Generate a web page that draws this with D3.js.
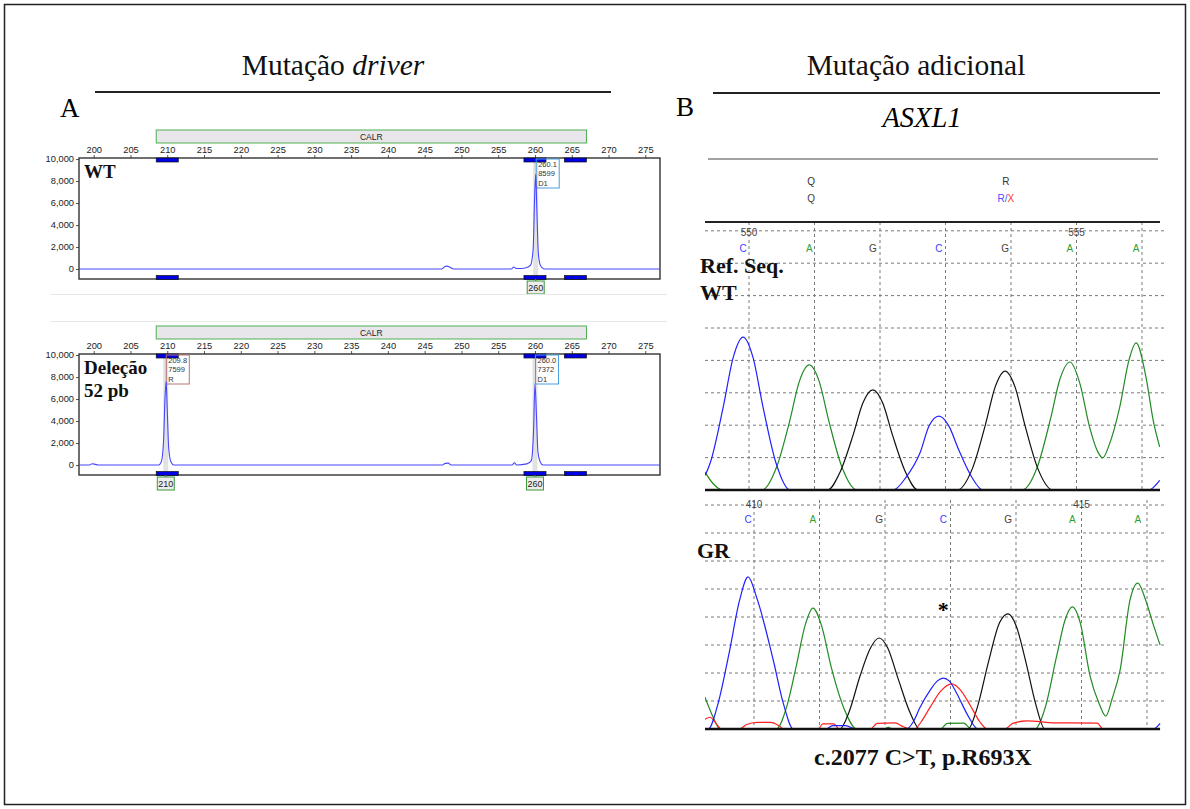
<!DOCTYPE html>
<html>
<head>
<meta charset="utf-8">
<script src="https://cdn.jsdelivr.net/npm/d3@7"></script>
<style>
body { margin: 0; background: #fff; }
svg { display: block; }
</style>
</head>
<body>
<div id="chart"></div>
<script>
// ---------- data: fragment analysis (CALR) ----------
var sizeTicks = [200, 205, 210, 215, 220, 225, 230, 235, 240, 245, 250, 255, 260, 265, 270, 275];
var rfuTicks = [0, 2000, 4000, 6000, 8000, 10000];
var calrRange = [208.5, 267];
var binRanges = [[208.5, 211.5], [258.5, 261.5], [264, 267]];

// [size (bp), RFU]
var wtTrace = [[198, 0], [247.3, 0], [247.7, 200], [248.0, 260], [248.4, 180], [248.8, 30], [249.4, 0],
  [256.8, 0], [257.1, 180], [257.4, 60], [257.7, 40], [258.8, 120], [259.4, 350], [259.75, 1800],
  [259.95, 6500], [260.1, 8599], [260.25, 5500], [260.45, 1500], [260.7, 400], [261.0, 100], [261.3, 0], [277, 0]];
var delTrace = [[198, 0], [199.4, 0], [199.8, 110], [200.2, 60], [200.6, 0], [208.8, 0], [209.2, 300],
  [209.5, 2200], [209.7, 6200], [209.85, 7599], [210.0, 5000], [210.2, 1500], [210.5, 300], [210.9, 0],
  [247.4, 0], [247.8, 150], [248.2, 170], [248.6, 0], [256.9, 0], [257.2, 200], [257.5, 0],
  [258.9, 100], [259.5, 400], [259.8, 3000], [260.0, 7372], [260.2, 4500], [260.4, 1200], [260.7, 300], [261.1, 0], [277, 0]];

// peak calls: [size, height, allele, bin label]
var wtCalls = [[260.1, 8599, "D1", "260"]];
var delCalls = [[209.8, 7599, "R", "210"], [260.0, 7372, "D1", "260"]];

// ---------- data: Sanger sequencing (ASXL1) ----------
var refBases = ["C", "A", "G", "C", "G", "A", "A"];
var refBasePos = [549.91, 550.92, 551.89, 552.9, 553.91, 554.9, 555.91];
var grBases = ["C", "A", "G", "C", "G", "A", "A"];
var grBasePos = [409.91, 410.9, 411.91, 412.89, 413.88, 414.86, 415.86];
var refPosLabels = [550, 555];
var grPosLabels = [410, 415];
var aminoPos = [550.95, 553.92];
var aminoRef = ["Q", "R"];
var aminoSample = ["Q", "R/X"];
var signalTicks = [100, 200, 300, 400, 500, 600, 700, 800];

// [base position, signal]
var refBlue = [[549.33, 45], [549.41, 85], [549.61, 260], [549.76, 410], [549.91, 472], [550.06, 410],
  [550.21, 260], [550.41, 85], [550.63, 0], [552.2, 0], [552.4, 40], [552.61, 114], [552.75, 198],
  [552.9, 228], [553.05, 198], [553.2, 125], [553.4, 40], [553.57, 0], [556.1, 0], [556.27, 30]];
var refGreen = [[549.33, 55], [549.45, 20], [549.6, 0], [550.2, 0], [550.42, 70], [550.62, 212],
  [550.77, 336], [550.92, 386], [551.07, 336], [551.22, 212], [551.42, 70], [551.65, 0], [554.17, 0],
  [554.4, 70], [554.6, 217], [554.75, 344], [554.9, 395], [555.05, 330], [555.2, 194], [555.32, 120],
  [555.4, 99], [555.5, 140], [555.66, 256], [555.8, 400], [555.91, 454], [556.06, 349], [556.17, 216], [556.27, 133]];
var refBlack = [[549.33, 0], [551.2, 0], [551.39, 55], [551.59, 170], [551.74, 269], [551.89, 309],
  [552.04, 269], [552.19, 170], [552.39, 55], [552.58, 0], [553.18, 0], [553.41, 66], [553.61, 202],
  [553.76, 319], [553.91, 367], [554.06, 319], [554.21, 202], [554.41, 66], [554.64, 0], [556.27, 0]];

var grBlue = [[409.25, 0], [409.3, 0], [409.45, 90], [409.62, 271], [409.78, 460], [409.91, 543],
  [410.04, 470], [410.29, 250], [410.45, 90], [410.6, 0], [411.1, 0], [411.2, 12], [411.4, 12], [411.55, 0],
  [412.33, 0], [412.43, 25], [412.53, 75], [412.69, 139], [412.8, 172], [412.89, 182], [412.98, 172],
  [413.1, 125], [413.25, 55], [413.42, 0], [416.1, 0], [416.2, 20]];
var grGreen = [[409.25, 114], [409.38, 40], [409.48, 0], [410.34, 0], [410.5, 80], [410.65, 230],
  [410.78, 370], [410.9, 432], [411.03, 370], [411.18, 220], [411.38, 70], [411.57, 0], [411.98, 0],
  [412.05, 6], [412.12, 0], [412.85, 0], [412.95, 20], [413.2, 21], [413.32, 0], [414.29, 0], [414.45, 80],
  [414.62, 260], [414.75, 390], [414.86, 436], [414.98, 380], [415.13, 190], [415.27, 90], [415.37, 46],
  [415.47, 110], [415.59, 211], [415.74, 460], [415.86, 521], [415.98, 460], [416.1, 370], [416.2, 300]];
var grBlack = [[409.25, 0], [411.31, 0], [411.45, 60], [411.62, 190], [411.78, 290], [411.91, 325],
  [412.04, 290], [412.2, 180], [412.38, 60], [412.53, 0], [413.27, 0], [413.4, 70], [413.58, 240],
  [413.75, 380], [413.88, 411], [414.0, 370], [414.15, 240], [414.3, 90], [414.44, 0], [416.2, 0]];
var grRed = [[409.25, 35], [409.33, 42], [409.42, 20], [409.5, 0], [409.78, 0], [409.88, 15], [410.05, 24],
  [410.25, 24], [410.38, 12], [410.45, 0], [410.98, 0], [411.05, 18], [411.22, 18], [411.3, 0], [411.78, 0],
  [411.88, 20], [412.15, 22], [412.28, 8], [412.4, 0], [412.45, 0], [412.55, 25], [412.69, 78], [412.85, 135],
  [413.02, 161], [413.15, 140], [413.3, 85], [413.45, 25], [413.56, 0], [413.83, 0], [413.95, 20],
  [414.17, 29], [414.6, 22], [415.24, 21], [415.33, 0], [416.2, 0]];

// ---------- drawing ----------
var serif = "'Liberation Serif','Times New Roman',serif";
var sans = "'Liberation Sans',Arial,sans-serif";
var baseColor = { C: "#3a3aff", A: "#2fa02f", G: "#4a4036", T: "#ff2020" };

var svg = d3.select("#chart").append("svg")
  .attr("width", 1190)
  .attr("height", 809);

svg.append("rect")
  .attr("x", 4.5).attr("y", 4.5).attr("width", 1181).attr("height", 800)
  .attr("fill", "none").attr("stroke", "#222").attr("stroke-width", 1.5);

function hline(x1, x2, y, color, w) {
  svg.append("line").attr("x1", x1).attr("x2", x2).attr("y1", y).attr("y2", y)
    .attr("stroke", color).attr("stroke-width", w);
}

// headings
var t1 = svg.append("text").attr("x", 333).attr("y", 75).attr("text-anchor", "middle")
  .style("font-family", serif).style("font-size", "29.5px").attr("fill", "#111");
t1.append("tspan").text("Mutação ");
t1.append("tspan").style("font-style", "italic").text("driver");
hline(95, 611, 92, "#222", 2);
svg.append("text").attr("x", 60).attr("y", 117).style("font-family", serif).style("font-size", "27px").text("A");

svg.append("text").attr("x", 916).attr("y", 75).attr("text-anchor", "middle")
  .style("font-family", serif).style("font-size", "29.5px").attr("fill", "#111").text("Mutação adicional");
hline(713, 1160, 93, "#222", 2);
svg.append("text").attr("x", 676).attr("y", 116).style("font-family", serif).style("font-size", "27px").text("B");
svg.append("text").attr("x", 922).attr("y", 127).attr("text-anchor", "middle")
  .style("font-family", serif).style("font-size", "28.5px").style("font-style", "italic").text("ASXL1");
hline(708, 1158, 159, "#444", 1);

// ---- electropherogram panel ----
function drawEpg(top, trace, calls, labelLines) {
  var g = svg.append("g").attr("transform", "translate(0," + top + ")");
  var x = d3.scaleLinear().domain([198, 277]).range([79, 660]);
  var y = d3.scaleLinear().domain([0, 10000]).range([269, 159]);

  // marker range box
  g.append("rect")
    .attr("x", x(calrRange[0])).attr("y", 130)
    .attr("width", x(calrRange[1]) - x(calrRange[0])).attr("height", 13)
    .attr("fill", "#e8e6ea").attr("stroke", "#4caf50").attr("stroke-width", 1);
  g.append("text")
    .attr("x", (x(calrRange[0]) + x(calrRange[1])) / 2).attr("y", 140)
    .attr("text-anchor", "middle").style("font-family", sans).style("font-size", "8.5px")
    .attr("fill", "#222").text("CALR");

  // highlight bands under called peaks
  calls.forEach(function(c) {
    g.append("rect").attr("x", x(c[0]) - 2.5).attr("y", 158).attr("width", 5).attr("height", 123)
      .attr("fill", "#e2e2e2");
  });

  // axes
  var topAxis = g.append("g").attr("transform", "translate(0,158)");
  topAxis.call(d3.axisTop(x).tickValues(d3.range(198, 278)).tickSize(2).tickFormat(""));
  topAxis.call(d3.axisTop(x).tickValues(sizeTicks).tickSize(3).tickPadding(2));
  topAxis.selectAll("path").remove();
  topAxis.selectAll("line").attr("stroke", "#555");
  topAxis.selectAll("text").style("font-family", sans).style("font-size", "9.3px").attr("fill", "#222");

  var leftAxis = g.append("g").attr("transform", "translate(79,0)");
  leftAxis.call(d3.axisLeft(y).tickValues(d3.range(1000, 10000, 2000)).tickSize(2).tickFormat(""));
  leftAxis.call(d3.axisLeft(y).tickValues(rfuTicks).tickSize(3).tickPadding(2).tickFormat(d3.format(",")));
  leftAxis.selectAll("path").remove();
  leftAxis.selectAll("line").attr("stroke", "#555");
  leftAxis.selectAll("text").style("font-family", sans).style("font-size", "9.3px").attr("fill", "#222");

  // plot box
  g.append("rect").attr("x", 79).attr("y", 158).attr("width", 581).attr("height", 121)
    .attr("fill", "none").attr("stroke", "#333").attr("stroke-width", 1.4);

  // bins top and bottom
  binRanges.forEach(function(b) {
    [158, 275.5].forEach(function(yy) {
      g.append("rect").attr("x", x(b[0])).attr("y", yy).attr("width", x(b[1]) - x(b[0])).attr("height", 4)
        .attr("fill", "#0000e6").attr("stroke", "#111").attr("stroke-width", 0.7);
    });
  });

  // peak call boxes
  calls.forEach(function(c) {
    var bx = x(c[0]) + 0.5;
    var col = c[2] === "R" ? "#b57474" : "#4a9de0";
    g.append("rect").attr("x", bx).attr("y", 159).attr("width", 23).attr("height", 29)
      .attr("fill", "none").attr("stroke", col).attr("stroke-width", 1);
    [c[0].toFixed(1), String(c[1]), c[2]].forEach(function(s, i) {
      g.append("text").attr("x", bx + 2).attr("y", 167 + i * 9.3)
        .style("font-family", sans).style("font-size", "7.5px").attr("fill", "#333").text(s);
    });
    // bin label below
    g.append("line").attr("x1", x(c[0])).attr("x2", x(c[0])).attr("y1", 279).attr("y2", 281)
      .attr("stroke", "#3a9a3a");
    g.append("rect").attr("x", x(c[0]) - 8.5).attr("y", 281).attr("width", 17).attr("height", 13)
      .attr("fill", "#ececec").attr("stroke", "#3a9a3a").attr("stroke-width", 1);
    g.append("text").attr("x", x(c[0])).attr("y", 291).attr("text-anchor", "middle")
      .style("font-family", sans).style("font-size", "9px").attr("fill", "#222").text(c[3]);
  });

  // trace
  var line = d3.line().x(function(d) { return x(d[0]); }).y(function(d) { return y(d[1]); })
    .curve(d3.curveMonotoneX);
  g.append("path").datum(trace).attr("d", line)
    .attr("fill", "none").attr("stroke", "#4646ff").attr("stroke-width", 1.1);

  // sample label
  labelLines.forEach(function(s, i) {
    g.append("text").attr("x", 84).attr("y", 178 + i * 23)
      .style("font-family", serif).style("font-size", "19px").style("font-weight", "bold")
      .attr("fill", "#111").text(s);
  });
}

drawEpg(0, wtTrace, wtCalls, ["WT"]);
drawEpg(196, delTrace, delCalls, ["Deleção", "52 pb"]);
hline(50, 667, 294.5, "#e8e8e8", 1);
hline(50, 667, 321.5, "#e8e8e8", 1);

// ---- chromatogram panels ----
var defs = svg.append("defs");
function drawChrom(opts) {
  var x = d3.scaleLinear().domain([opts.pos0, opts.pos0 + 5]).range([opts.x0, opts.x0 + 327.5]);
  var y = d3.scaleLinear().domain([0, 800]).range([opts.base, opts.top]);
  var id = "clip" + opts.pos0;
  defs.append("clipPath").attr("id", id).append("rect")
    .attr("x", 705).attr("y", opts.clipTop).attr("width", 462).attr("height", opts.base - opts.clipTop + 2);
  var g = svg.append("g").attr("clip-path", "url(#" + id + ")");

  // dashed grid
  g.selectAll("line.h").data(signalTicks).enter().append("line")
    .attr("x1", 705).attr("x2", 1166)
    .attr("y1", function(d) { return y(d); }).attr("y2", function(d) { return y(d); })
    .attr("stroke", "#7a7a7a").attr("stroke-width", 1).attr("stroke-dasharray", "3,3");
  g.selectAll("line.v").data(d3.range(opts.pos0, opts.pos0 + 7)).enter().append("line")
    .attr("x1", function(d) { return x(d); }).attr("x2", function(d) { return x(d); })
    .attr("y1", opts.clipTop).attr("y2", opts.base)
    .attr("stroke", "#7a7a7a").attr("stroke-width", 1).attr("stroke-dasharray", "3,3");

  // position numbers and base calls
  opts.posLabels.forEach(function(p) {
    g.append("text").attr("x", x(p)).attr("y", opts.top + opts.numDy).attr("text-anchor", "middle")
      .style("font-family", sans).style("font-size", "10px").attr("fill", "#444").text(p);
  });
  opts.bases.forEach(function(b, i) {
    g.append("text").attr("x", x(opts.basePos[i])).attr("y", opts.top + opts.baseDy).attr("text-anchor", "middle")
      .style("font-family", sans).style("font-size", "10px").attr("fill", baseColor[b]).text(b);
  });

  // traces
  var line = d3.line().x(function(d) { return x(d[0]); }).y(function(d) { return y(d[1]); })
    .curve(d3.curveMonotoneX);
  opts.traces.forEach(function(t) {
    g.append("path").datum(t[0]).attr("d", line)
      .attr("fill", "none").attr("stroke", t[1]).attr("stroke-width", 1.2);
  });

  // baseline
  svg.append("line").attr("x1", 705).attr("x2", 1160).attr("y1", opts.base).attr("y2", opts.base)
    .attr("stroke", "#111").attr("stroke-width", 2.5);
  return x;
}

var xRef = drawChrom({
  pos0: 550, x0: 749, base: 490, top: 230.8, clipTop: 222, numDy: 5, baseDy: 21,
  posLabels: refPosLabels, bases: refBases, basePos: refBasePos,
  traces: [[refGreen, "#228b22"], [refBlack, "#111"], [refBlue, "#2020ff"]]
});
var xGr = drawChrom({
  pos0: 410, x0: 754, base: 729, top: 505, clipTop: 500, numDy: 2.5, baseDy: 17.5,
  posLabels: grPosLabels, bases: grBases, basePos: grBasePos,
  traces: [[grGreen, "#228b22"], [grBlack, "#111"], [grRed, "#ff2020"], [grBlue, "#2020ff"]]
});
hline(705, 1160, 222, "#222", 2);

// amino acid translation above the reference
aminoPos.forEach(function(p, i) {
  svg.append("text").attr("x", xRef(p)).attr("y", 185).attr("text-anchor", "middle")
    .style("font-family", sans).style("font-size", "10px").attr("fill", "#333").text(aminoRef[i]);
  var t = svg.append("text").attr("x", xRef(p)).attr("y", 202).attr("text-anchor", "middle")
    .style("font-family", sans).style("font-size", "10px").attr("fill", "#4a4036");
  if (aminoSample[i].indexOf("/") > 0) {
    var parts = aminoSample[i].split("/");
    t.append("tspan").attr("fill", "#4d4dff").text(parts[0] + "/");
    t.append("tspan").attr("fill", "#ff3333").text(parts[1]);
  } else {
    t.text(aminoSample[i]);
  }
});

// labels on chromatograms
function boldText(x, y, size, s) {
  svg.append("text").attr("x", x).attr("y", y)
    .style("font-family", serif).style("font-size", size + "px").style("font-weight", "bold")
    .attr("fill", "#111").text(s);
}
boldText(700, 273, 22, "Ref. Seq.");
boldText(700, 300, 22, "WT");
boldText(697, 558, 22, "GR");
svg.append("text").attr("x", xGr(grBasePos[3])).attr("y", 617).attr("text-anchor", "middle")
  .style("font-family", serif).style("font-size", "22px").style("font-weight", "bold").text("*");
svg.append("text").attr("x", 923).attr("y", 765).attr("text-anchor", "middle")
  .style("font-family", serif).style("font-size", "24px").style("font-weight", "bold")
  .attr("fill", "#111").text("c.2077 C>T, p.R693X");
</script>
</body>
</html>
